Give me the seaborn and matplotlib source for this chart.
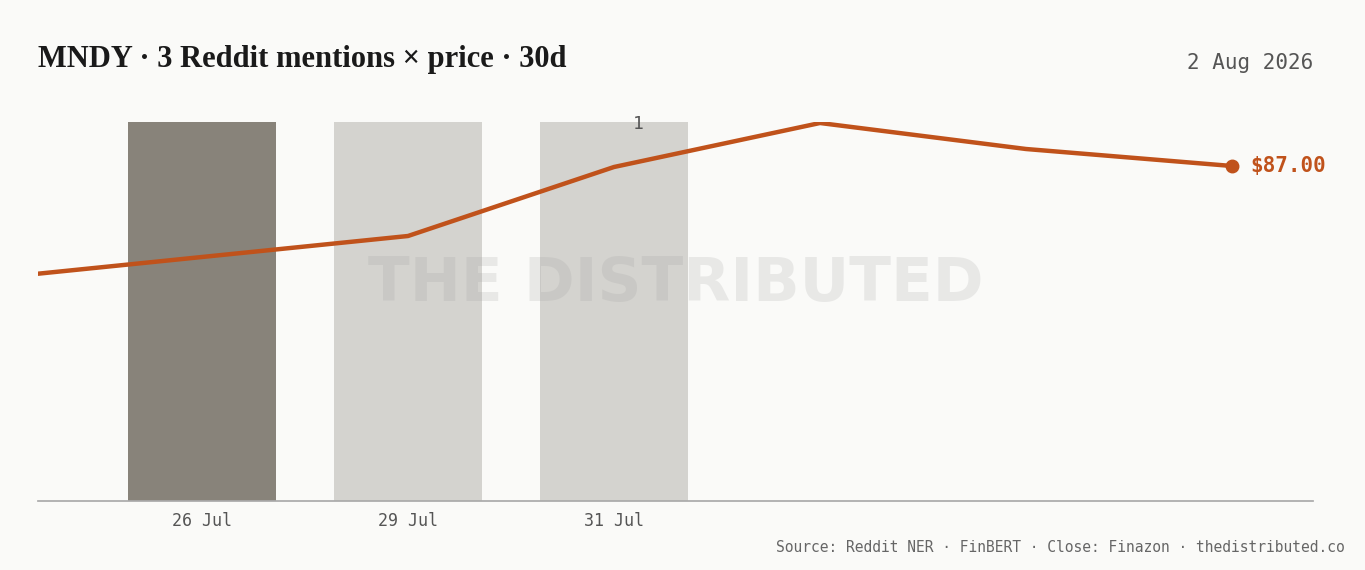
import matplotlib
matplotlib.use('Agg')
import matplotlib.pyplot as plt
import seaborn as sns
import pandas as pd

# data
bar_labels = ['26 Jul', '29 Jul', '31 Jul']
mentions = [1, 1, 1]
price_pos = [-1, 1, 2, 3, 4, 5]
prices = [81.4, 83.5, 86.95, 89.15, 87.85, 87.0]

sns.set_theme(style='white')
bg = '#fafaf8'
W, H = 1365, 570
fig = plt.figure(figsize=(W / 100, H / 100), dpi=100, facecolor=bg)
ax = fig.add_axes([38 / W, (H - 501) / H, 1275 / W, (501 - 122) / H])
ax.set_facecolor(bg)

df = pd.DataFrame({'pos': [0, 1, 2], 'n': mentions})
ax.bar(df['pos'], df['n'], width=148 / 206, linewidth=0,
       color=['#88837a', '#d4d3cf', '#d4d3cf'], zorder=1)
ax.set_xlim(-164 / 206, 1111 / 206)
ax.set_ylim(0, 1)
ax.set_xticks([0, 1, 2])
ax.set_xticklabels(bar_labels, family='DejaVu Sans Mono', fontsize=12, color='#555555')
ax.tick_params(axis='x', length=0, pad=8)
ax.set_yticks([])
for s in ['top', 'right', 'left']:
    ax.spines[s].set_visible(False)
ax.spines['bottom'].set_color('#aaaaaa')
ax.text(2.12, 0.995, '1', ha='center', va='center', family='DejaVu Sans Mono',
        fontsize=13, color='#555555')

ax2 = ax.twinx()
sns.lineplot(x=price_pos, y=prices, ax=ax2, color='#c0521b', linewidth=3.2, zorder=3)
ax2.plot(price_pos[-1], prices[-1], 'o', color='#c0521b', markersize=9)
ax2.set_ylim(87 - 335 * 0.05, 87 + 44 * 0.05)
ax2.set_xlim(ax.get_xlim())
ax2.set_yticks([])
ax2.set_ylabel('')
for s in ax2.spines.values():
    s.set_visible(False)
ax2.text(price_pos[-1] + 0.09, prices[-1], '$87.00', va='center', ha='left',
         family='DejaVu Sans Mono', fontsize=15, fontweight='bold', color='#c0521b', clip_on=False)

# watermark sits over the bars but under the line
ax2.text(0.5, 0.57, 'THE DISTRIBUTED', transform=ax.transAxes, ha='center', va='center',
         fontsize=44, fontweight='bold', color='#999999', alpha=0.18, zorder=1)

fig.text(38 / W, 1 - 60 / H, 'MNDY · 3 Reddit mentions × price · 30d', family='Liberation Serif',
         fontsize=22, fontweight='bold', color='#1a1a1a', va='center')
fig.text(1313 / W, 1 - 63 / H, '2 Aug 2026', family='DejaVu Sans Mono', fontsize=15,
         color='#555555', ha='right', va='center')
fig.text(1345 / W, 1 - 547 / H, 'Source: Reddit NER · FinBERT · Close: Finazon · thedistributed.co',
         family='DejaVu Sans Mono', fontsize=10.5, color='#666666', ha='right', va='center')

fig.savefig('out.png', dpi=100, facecolor=bg)
